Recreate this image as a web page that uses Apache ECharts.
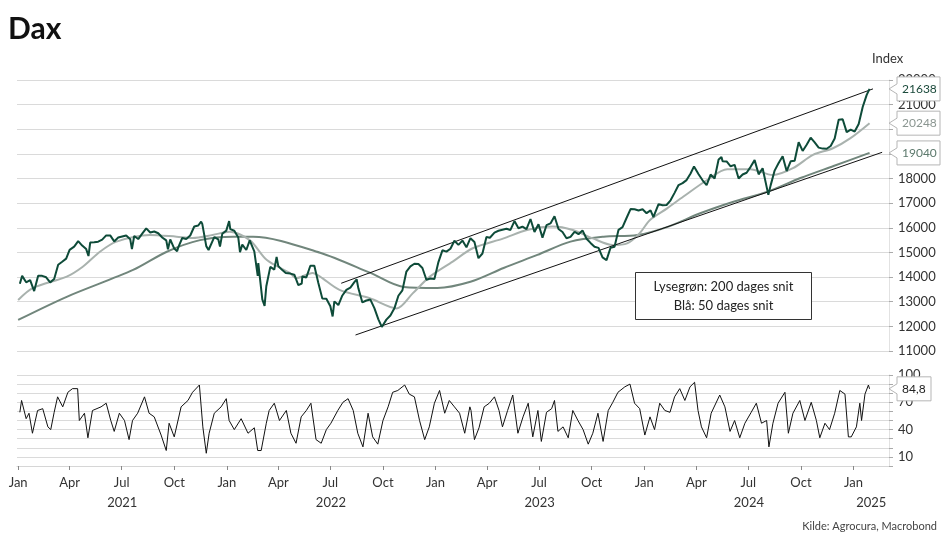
<!DOCTYPE html>
<html>
<head>
<meta charset="utf-8">
<script src="https://cdn.jsdelivr.net/npm/echarts@6/dist/echarts.min.js"></script>
<style>
html,body{margin:0;padding:0;background:#fff;}
#main{width:947px;height:547px;}
</style>
</head>
<body>
<div id="main"></div>
<script>
// ---------- DATA ----------
const priceDates = [
'2021-01-04','2021-01-08','2021-01-15','2021-01-22','2021-01-29','2021-02-05','2021-02-12','2021-02-19','2021-02-26','2021-03-05',
'2021-03-12','2021-03-19','2021-03-26','2021-04-01','2021-04-09','2021-04-16','2021-04-23','2021-04-30','2021-05-04','2021-05-07',
'2021-05-14','2021-05-21','2021-05-28','2021-06-04','2021-06-11','2021-06-18','2021-06-25','2021-07-02','2021-07-09','2021-07-16',
'2021-07-19','2021-07-23','2021-07-30','2021-08-06','2021-08-13','2021-08-20','2021-08-27','2021-09-03','2021-09-10','2021-09-17',
'2021-09-20','2021-09-24','2021-10-01','2021-10-06','2021-10-08','2021-10-15','2021-10-22','2021-10-29','2021-11-05','2021-11-12',
'2021-11-17','2021-11-19','2021-11-26','2021-11-30','2021-12-03','2021-12-10','2021-12-17','2021-12-20','2021-12-24','2021-12-31',
'2022-01-05','2022-01-07','2022-01-14','2022-01-21','2022-01-24','2022-01-28','2022-02-04','2022-02-10','2022-02-18','2022-02-24',
'2022-02-25','2022-03-04','2022-03-08','2022-03-11','2022-03-18','2022-03-25','2022-03-29','2022-04-01','2022-04-08','2022-04-14',
'2022-04-22','2022-04-29','2022-05-06','2022-05-12','2022-05-13','2022-05-20','2022-05-27','2022-06-03','2022-06-10','2022-06-17',
'2022-06-24','2022-07-01','2022-07-05','2022-07-08','2022-07-15','2022-07-22','2022-07-29','2022-08-05','2022-08-12','2022-08-16',
'2022-08-19','2022-08-26','2022-09-02','2022-09-09','2022-09-16','2022-09-23','2022-09-29','2022-10-07','2022-10-14','2022-10-21',
'2022-10-28','2022-11-04','2022-11-11','2022-11-18','2022-11-25','2022-12-02','2022-12-09','2022-12-16','2022-12-23','2022-12-30',
'2023-01-06','2023-01-13','2023-01-20','2023-01-27','2023-02-03','2023-02-10','2023-02-17','2023-02-24','2023-03-03','2023-03-06',
'2023-03-10','2023-03-17','2023-03-24','2023-03-31','2023-04-06','2023-04-14','2023-04-21','2023-04-28','2023-05-05','2023-05-12',
'2023-05-19','2023-05-26','2023-06-02','2023-06-09','2023-06-16','2023-06-23','2023-06-30','2023-07-07','2023-07-14','2023-07-21',
'2023-07-28','2023-07-31','2023-08-04','2023-08-11','2023-08-18','2023-08-25','2023-09-01','2023-09-08','2023-09-15','2023-09-22',
'2023-09-29','2023-10-06','2023-10-13','2023-10-20','2023-10-27','2023-11-03','2023-11-10','2023-11-17','2023-11-24','2023-12-01',
'2023-12-08','2023-12-15','2023-12-22','2023-12-29','2024-01-05','2024-01-12','2024-01-17','2024-01-19','2024-01-26','2024-02-02',
'2024-02-09','2024-02-16','2024-02-23','2024-03-01','2024-03-08','2024-03-15','2024-03-22','2024-03-28','2024-04-05','2024-04-12',
'2024-04-19','2024-04-26','2024-05-03','2024-05-10','2024-05-15','2024-05-17','2024-05-24','2024-05-31','2024-06-07','2024-06-14',
'2024-06-21','2024-06-28','2024-07-05','2024-07-12','2024-07-19','2024-07-26','2024-08-02','2024-08-05','2024-08-09','2024-08-16',
'2024-08-23','2024-08-30','2024-09-06','2024-09-13','2024-09-20','2024-09-27','2024-10-04','2024-10-11','2024-10-18','2024-10-25',
'2024-11-01','2024-11-08','2024-11-15','2024-11-22','2024-11-29','2024-12-06','2024-12-13','2024-12-20','2024-12-27','2025-01-03',
'2025-01-10','2025-01-17','2025-01-24','2025-01-29'
];
const priceValues = [
13726,14050,13788,13873,13433,14057,14050,13993,13786,13921,
14502,14621,14749,15107,15234,15460,15280,15136,14856,15400,
15416,15438,15520,15693,15693,15448,15607,15650,15688,15540,
15133,15669,15544,15761,15977,15808,15852,15781,15609,15490,
15132,15531,15156,15050,15206,15587,15543,15689,16054,16094,
16251,16160,15257,15100,15170,15623,15532,15240,15756,15885,
16271,15948,15883,15603,15011,15318,15100,15490,15042,14052,
14567,13094,12832,13628,14413,14306,14820,14446,14284,14163,
14142,14098,13674,13740,14027,13982,14462,14460,13762,13126,
13118,12813,12401,13015,12864,13254,13484,13574,13795,13910,
13544,12971,13050,13088,12741,12284,11976,12273,12438,12731,
13243,13460,14225,14432,14541,14529,14371,13894,13941,13924,
14610,15087,15033,15150,15476,15308,15482,15210,15578,15654,
15428,14768,14957,15629,15598,15808,15882,15922,15961,15914,
16275,15984,16051,15950,16358,15830,16148,15603,16106,16177,
16469,16447,15952,15832,15574,15632,15840,15740,15894,15557,
15387,15230,15187,14798,14688,15189,15234,15919,16029,16398,
16759,16751,16706,16752,16594,16705,16432,16555,16961,16918,
16927,17117,17419,17735,17815,17937,18206,18492,18175,17930,
17737,18161,18002,18773,18869,18704,18693,18498,18557,18002,
18164,18235,18475,18748,18171,18418,17661,17339,17723,18322,
18633,18907,18302,18699,18720,19474,19121,19374,19657,19464,
19255,19215,19211,19323,19626,20385,20406,19885,19984,19906,
20215,20903,21394,21638
];

const ma50Dates = ['2021-01-01','2021-01-27','2021-03-27','2021-04-24','2021-05-24','2021-06-22','2021-08-19','2021-10-05','2021-11-02','2021-12-07',
'2022-01-06','2022-02-10','2022-03-12','2022-04-21','2022-05-03','2022-05-31','2022-06-13','2022-07-17','2022-09-08','2022-10-25',
'2022-11-22','2022-12-22','2023-01-31','2023-03-07','2023-04-30','2023-06-10','2023-07-25','2023-08-29','2023-10-03','2023-11-07',
'2023-12-02','2023-12-24','2024-01-11','2024-02-10','2024-03-09','2024-04-20','2024-05-25','2024-07-04','2024-08-13','2024-09-17',
'2024-10-22','2024-11-26','2024-12-26','2025-01-29'];
const ma50Values = [13070,13560,14020,14420,15030,15440,15710,15640,15590,15710,
15840,15500,14690,14170,13960,14170,14020,13480,13140,12730,
13340,14020,14630,15170,15570,15910,16050,15910,15570,15300,
15370,15780,16320,16790,17260,17940,18380,18380,18140,18420,
18960,19230,19630,20248];

const ma200Dates = ['2021-01-01','2021-03-27','2021-07-21','2021-09-18','2021-11-15','2022-01-12','2022-02-16','2022-06-13','2022-09-09','2022-11-06',
'2023-01-04','2023-03-03','2023-04-30','2023-06-28','2023-08-25','2023-10-22','2023-12-20','2024-02-11','2024-04-09','2024-06-05',
'2024-08-04','2024-09-30','2024-11-27','2025-01-29'];
const ma200Values = [12260,13200,14290,15030,15500,15640,15640,14990,14170,13600,
13560,13810,14370,14900,15440,15640,15710,16040,16600,17060,
17470,18020,18510,19040];

const channelUpperDates = ['2022-07-20','2025-02-04'];
const channelUpperValues = [13750,21640];
const channelLowerDates = ['2022-08-14','2025-02-20'];
const channelLowerValues = [11650,19065];

const rsiDates = [
'2021-01-04','2021-01-07','2021-01-15','2021-01-20','2021-01-26','2021-01-29','2021-02-04','2021-02-13','2021-02-22','2021-02-27',
'2021-03-05','2021-03-11','2021-03-20','2021-03-29','2021-04-06','2021-04-15','2021-04-18','2021-04-27','2021-05-03','2021-05-11',
'2021-05-26','2021-06-04','2021-06-12','2021-06-18','2021-06-27','2021-07-06','2021-07-14','2021-07-20','2021-07-29','2021-08-10',
'2021-08-18','2021-08-27','2021-09-08','2021-09-17','2021-09-22','2021-10-01','2021-10-13','2021-10-25','2021-11-02','2021-11-14',
'2021-11-20','2021-11-26','2021-12-01','2021-12-10','2021-12-22','2021-12-31','2022-01-05','2022-01-14','2022-01-26','2022-02-07',
'2022-02-18','2022-02-24','2022-03-02','2022-03-11','2022-03-16','2022-03-25','2022-04-03','2022-04-15','2022-04-23','2022-05-02',
'2022-05-11','2022-05-20','2022-05-28','2022-06-06','2022-06-15','2022-06-24','2022-07-02','2022-07-14','2022-07-23','2022-08-01',
'2022-08-10','2022-08-18','2022-08-27','2022-09-05','2022-09-13','2022-09-22','2022-10-01','2022-10-10','2022-10-18','2022-10-27',
'2022-11-08','2022-11-16','2022-11-25','2022-12-04','2022-12-13','2022-12-21','2022-12-30','2023-01-08','2023-01-17','2023-01-25',
'2023-02-03','2023-02-12','2023-02-21','2023-03-02','2023-03-04','2023-03-10','2023-03-18','2023-03-27','2023-04-05','2023-04-14',
'2023-04-22','2023-04-28','2023-05-07','2023-05-16','2023-05-25','2023-06-03','2023-06-12','2023-06-20','2023-06-29','2023-07-05',
'2023-07-14','2023-07-23','2023-07-28','2023-08-03','2023-08-12','2023-08-21','2023-08-29','2023-09-07','2023-09-16','2023-09-25',
'2023-10-03','2023-10-12','2023-10-21','2023-10-30','2023-11-07','2023-11-16','2023-11-28','2023-12-07','2023-12-15','2023-12-24',
'2024-01-02','2024-01-11','2024-01-19','2024-01-28','2024-02-06','2024-02-15','2024-02-23','2024-03-03','2024-03-12','2024-03-21',
'2024-03-29','2024-04-04','2024-04-10','2024-04-19','2024-04-27','2024-05-12','2024-05-21','2024-05-30','2024-06-07','2024-06-16',
'2024-06-25','2024-07-06','2024-07-15','2024-07-24','2024-08-02','2024-08-06','2024-08-13','2024-08-22','2024-09-03','2024-09-09',
'2024-09-17','2024-09-29','2024-10-08','2024-10-19','2024-10-28','2024-11-03','2024-11-12','2024-11-20','2024-11-29','2024-12-08',
'2024-12-17','2024-12-23','2024-12-28','2025-01-06','2025-01-12','2025-01-15','2025-01-21','2025-01-27','2025-01-29'
];
const rsiValues = [
59,72,52,58,36,34,61,63,43,40,
59,76,65,81,85,85,50,58,31,61,
65,69,50,38,58,50,29,50,58,76,
58,54,34,17,47,32,65,72,81,89,
43,14,36,58,65,74,50,40,52,36,
42,17,17,47,61,69,50,61,36,25,
54,61,69,29,25,40,47,61,70,74,
61,36,21,58,32,24,50,65,81,83,
89,79,76,50,29,43,69,83,58,72,
65,58,36,65,61,29,42,65,69,76,
61,43,61,78,36,54,69,32,61,27,
59,63,72,38,43,31,61,50,40,24,
36,58,27,61,70,81,87,90,69,63,
34,54,40,69,61,59,76,85,72,87,
92,61,43,31,58,78,65,38,50,31,
47,59,69,47,50,21,47,69,81,36,
58,72,50,70,50,31,47,40,58,83,
79,32,32,43,69,50,79,89,84.8
];

const quarterTicks = ['2021-01-01','2021-04-01','2021-07-01','2021-10-01','2022-01-01','2022-04-01','2022-07-01','2022-10-01',
'2023-01-01','2023-04-01','2023-07-01','2023-10-01','2024-01-01','2024-04-01','2024-07-01','2024-10-01','2025-01-01'];
const monthNames = ['Jan','Feb','Mar','Apr','May','Jun','Jul','Aug','Sep','Oct','Nov','Dec'];
const yearLabels = ['2021','2022','2023','2024','2025'];
const yearLabelDates = ['2021-07-02','2022-07-02','2023-07-02','2024-07-02','2025-02-01'];
const rsiTickLabels = [10,40,70,100];
const xStart = '2020-12-30';
const xEnd = '2025-03-04';

const lastPrice = 21638, lastMa50 = 20248, lastMa200 = 19040, lastRsi = 84.8;

// ---------- BUILD ----------
function ts(s){const p=s.split('-');return Date.UTC(+p[0],+p[1]-1,+p[2]);}
function zip(d,v){return d.map((x,i)=>[ts(x),v[i]]);}
const X0 = ts(xStart), X1 = ts(xEnd);
const qTs = quarterTicks.map(ts);
const yTs = yearLabelDates.map(ts);
const FONT = 'Lato, "Open Sans", sans-serif';

const chart = echarts.init(document.getElementById('main'));
const option = {
  animation:false,
  backgroundColor:'#fff',
  grid:[
    {left:17,right:58,top:80,height:271},
    {left:17,right:58,top:375,height:91}
  ],
  xAxis:[
    {gridIndex:0,type:'value',min:X0,max:X1,axisLine:{show:false},axisTick:{show:false},axisLabel:{show:false},splitLine:{show:false}},
    {gridIndex:1,type:'value',min:X0,max:X1,
      axisLine:{show:true,lineStyle:{color:'#d6d6d6',width:1}},
      axisTick:{show:true,customValues:qTs,length:4,lineStyle:{color:'#888'}},
      axisLabel:{customValues:qTs,margin:10,fontFamily:FONT,fontSize:13,color:'#333',
        formatter:v=>monthNames[new Date(v).getUTCMonth()]},
      splitLine:{show:false}},
    {gridIndex:1,type:'value',min:X0,max:X1,position:'bottom',offset:20,
      axisLine:{show:false},axisTick:{show:false},
      axisLabel:{customValues:yTs,margin:10,fontFamily:FONT,fontSize:13,color:'#333',
        formatter:v=>{const i=yTs.indexOf(v);return i>=0?yearLabels[i]:'';}},
      splitLine:{show:false}}
  ],
  yAxis:[
    {gridIndex:0,type:'value',position:'right',min:11000,max:22000,interval:1000,
      axisLine:{show:true,lineStyle:{color:'#e2e2e2'}},
      axisTick:{show:true,length:4,lineStyle:{color:'#aaa'}},
      axisLabel:{margin:9,fontFamily:FONT,fontSize:13,color:'#333',formatter:v=>String(v)},
      splitLine:{show:true,lineStyle:{color:'#dadada',width:1}}},
    {gridIndex:1,type:'value',position:'right',min:0,max:100,interval:10,
      axisLine:{show:true,lineStyle:{color:'#e2e2e2'}},
      axisTick:{show:true,length:4,lineStyle:{color:'#aaa'}},
      axisLabel:{margin:9,fontFamily:FONT,fontSize:13,color:'#333',
        formatter:v=>rsiTickLabels.indexOf(v)>=0?String(v):''},
      splitLine:{show:true,lineStyle:{color:'#dadada',width:1}}}
  ],
  series:[
    {name:'200',type:'line',xAxisIndex:0,yAxisIndex:0,data:zip(ma200Dates,ma200Values),showSymbol:false,smooth:0.3,
      lineStyle:{color:'#71867c',width:2},z:3},
    {name:'50',type:'line',xAxisIndex:0,yAxisIndex:0,data:zip(ma50Dates,ma50Values),showSymbol:false,smooth:0.3,
      lineStyle:{color:'#a9b2ae',width:2},z:3},
    {name:'upper',type:'line',xAxisIndex:0,yAxisIndex:0,data:zip(channelUpperDates,channelUpperValues),showSymbol:false,
      lineStyle:{color:'#111',width:1},z:4},
    {name:'lower',type:'line',xAxisIndex:0,yAxisIndex:0,data:zip(channelLowerDates,channelLowerValues),showSymbol:false,
      lineStyle:{color:'#111',width:1},z:4},
    {name:'DAX',type:'line',xAxisIndex:0,yAxisIndex:0,data:zip(priceDates,priceValues),showSymbol:false,
      lineStyle:{color:'#0e4b39',width:2},z:5},
    {name:'RSI',type:'line',xAxisIndex:1,yAxisIndex:1,data:zip(rsiDates,rsiValues),showSymbol:false,
      lineStyle:{color:'#111',width:1},z:5}
  ]
};
chart.setOption(option);

function tag(value, yAxisIndex, text, color, w){
  const yc = chart.convertToPixel({yAxisIndex:yAxisIndex}, value);
  const x0 = 897, tip = 889, h = 12;
  return [
    {type:'polygon',z:200,zlevel:1,shape:{points:[[x0,yc-h],[x0+w,yc-h],[x0+w,yc+h],[x0,yc+h],[x0,yc+5],[tip,yc],[x0,yc-5]]},
      style:{fill:'#fff',stroke:'#b5b5b5',lineWidth:1}},
    {type:'text',z:201,zlevel:1,x:x0+5,y:yc,style:{text:text,fill:color,font:'12px '+FONT,verticalAlign:'middle',align:'left'}}
  ];
}

chart.setOption({
  graphic:[
    {type:'text',left:8,top:14,z:100,style:{text:'Dax',font:'bold 30px '+FONT,fill:'#111'}},
    {type:'text',left:872,top:52,z:100,style:{text:'Index',font:'13px '+FONT,fill:'#333'}},
    {type:'text',right:10,top:521,z:100,style:{text:'Kilde: Agrocura, Macrobond',font:'11px '+FONT,fill:'#444'}},
    {type:'rect',z:100,shape:{x:635.5,y:272.5,width:176,height:47},style:{fill:'#fff',stroke:'#333',lineWidth:1}},
    {type:'text',z:101,x:723.5,y:287,style:{text:'Lysegrøn: 200 dages snit',font:'13px '+FONT,fill:'#222',align:'center',verticalAlign:'middle'}},
    {type:'text',z:101,x:723.5,y:306,style:{text:'Blå: 50 dages snit',font:'13px '+FONT,fill:'#222',align:'center',verticalAlign:'middle'}}
  ].concat(
    tag(lastPrice,0,'21638','#1b4a3b',43),
    tag(lastMa50,0,'20248','#8b9691',43),
    tag(lastMa200,0,'19040','#5c796c',43),
    tag(lastRsi,1,'84,8','#222',34)
  )
});
</script>
</body>
</html>
